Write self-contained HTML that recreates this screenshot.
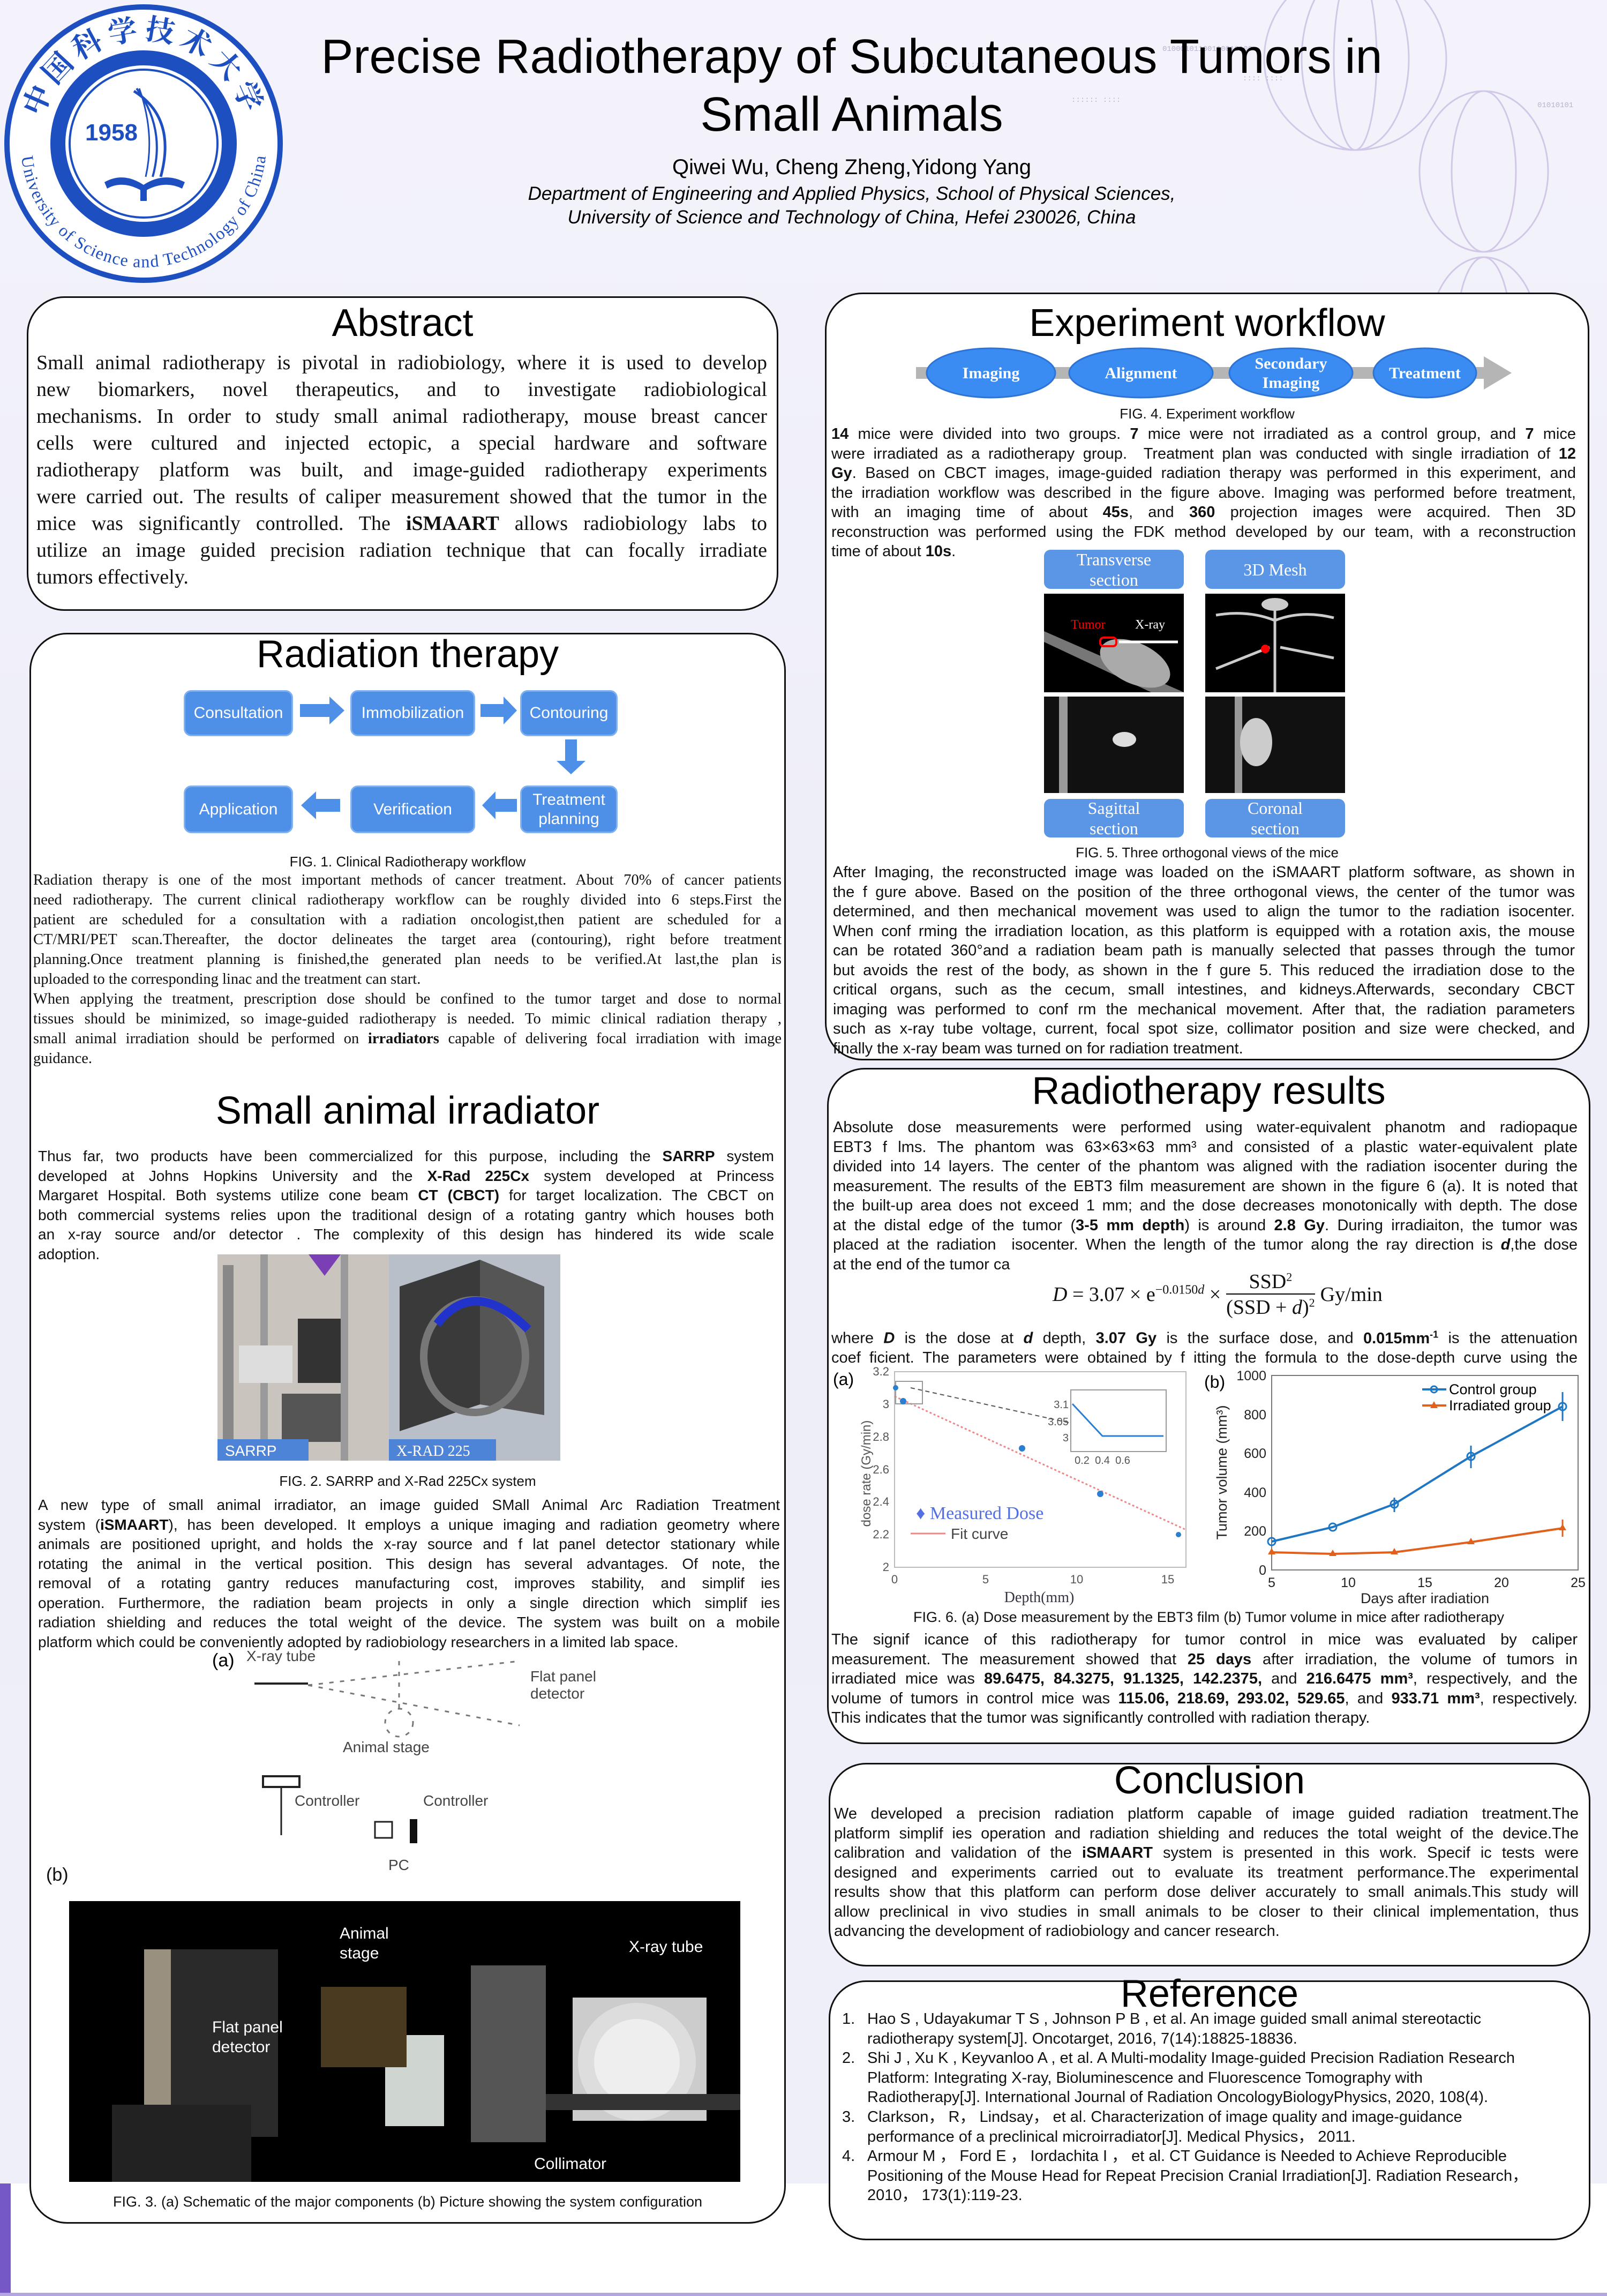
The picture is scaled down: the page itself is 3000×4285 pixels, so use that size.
<!DOCTYPE html>
<html><head><meta charset="utf-8">
<style>
*{margin:0;padding:0;box-sizing:border-box}
body{width:3000px;height:4285px;position:relative;overflow:hidden;background:#fff;font-family:"Liberation Sans",sans-serif;color:#111}
.bg{position:absolute;left:0;top:0;width:3000px;height:4075px;background:linear-gradient(180deg,#f4f3fb 0%,#eeeef9 40%,#efeff9 100%)}
.box{position:absolute;background:#fff;border:3px solid #111;border-radius:70px}
.h{position:absolute;text-align:center;font-weight:normal;color:#000;white-space:nowrap}
.t{position:absolute;}
.t div{text-align:justify;text-align-last:justify;white-space:normal;overflow:hidden}
.t div.l{text-align-last:left}
.serif{font-family:"Liberation Serif",serif}
.cap{position:absolute;text-align:center;white-space:nowrap;font-size:26px}
.fb{position:absolute;background:#4e8fe8;border:3px solid #7fb0f0;border-radius:14px;color:#fff;font-size:30px;display:flex;align-items:center;justify-content:center;text-align:center;line-height:36px}
.lb{position:absolute;background:#5b95e6;border-radius:12px;color:#fff;font-family:"Liberation Serif",serif;font-size:32px;display:flex;align-items:center;justify-content:center;text-align:center;line-height:38px}
.img{position:absolute;background:#000;overflow:hidden}
</style></head><body>
<div class="bg"></div>
<svg style="position:absolute;left:0;top:0" width="3000" height="1200">
<g fill="none" stroke="#c9bde3" stroke-width="3" opacity="0.8">
<ellipse cx="2530" cy="110" rx="170" ry="170"/><ellipse cx="2530" cy="110" rx="100" ry="170"/><ellipse cx="2530" cy="110" rx="40" ry="170"/>
<ellipse cx="2770" cy="320" rx="120" ry="150"/><ellipse cx="2770" cy="320" rx="60" ry="150"/>
<ellipse cx="2770" cy="620" rx="100" ry="140"/><ellipse cx="2770" cy="620" rx="50" ry="140"/>
</g>
<g fill="#b9b3cf" font-size="14" font-family="Liberation Mono">
<text x="2170" y="95">01000101100110010100</text><text x="1720" y="125">:::::: ::::::</text><text x="2000" y="190">:::::: ::::</text><text x="2870" y="200">01010101</text><text x="2320" y="150">:::: ::::</text>
</g>
</svg>
<div style="position:absolute;left:0;top:4075px;width:20px;height:210px;background:#7558c6"></div>
<div style="position:absolute;left:0;top:4279px;width:3000px;height:6px;background:#b3a6e0"></div>

<svg style="position:absolute;left:0;top:0" width="540" height="540">
<defs>
<path id="arcB" d="M 62 270 A 206 206 0 0 0 474 270"/>
<path id="arcT" d="M 80 270 A 188 188 0 0 1 456 270"/>
</defs>
<circle cx="268" cy="268" r="255" fill="#fff" stroke="#1d4fc0" stroke-width="10"/>
<circle cx="268" cy="268" r="160" fill="none" stroke="#1d4fc0" stroke-width="28"/>
<circle cx="268" cy="268" r="138" fill="#fff" stroke="#1d4fc0" stroke-width="4"/>
<text font-family="Liberation Serif,serif" font-size="32" fill="#1d4fc0" dominant-baseline="hanging"><textPath href="#arcB" startOffset="50%" text-anchor="middle">University of Science and Technology of China</textPath></text>
<text font-family="Noto Serif CJK SC,Noto Sans CJK SC,serif" font-size="54" font-weight="bold" fill="#1d4fc0" dy="-8"><textPath href="#arcT" startOffset="50%" text-anchor="middle" letter-spacing="8">中国科学技术大学</textPath></text>
<text x="208" y="262" font-family="Liberation Sans,sans-serif" font-size="44" font-weight="bold" fill="#1d4fc0" text-anchor="middle">1958</text>
<path d="M250 170 Q330 220 300 330" stroke="#1d4fc0" stroke-width="5" fill="none"/>
<path d="M255 165 Q310 240 285 330" stroke="#1d4fc0" stroke-width="4" fill="none"/>
<path d="M260 165 Q290 250 272 330" stroke="#1d4fc0" stroke-width="3" fill="none"/>
<path d="M195 340 Q230 320 268 345 Q306 320 345 340 L340 352 Q306 335 268 358 Q230 335 200 352 Z" fill="#1d4fc0"/>
<rect x="262" y="345" width="12" height="30" fill="#1d4fc0"/>
</svg>

<div class="h" style="left:420px;width:2340px;top:52px;font-size:90px;line-height:108px">Precise Radiotherapy of Subcutaneous Tumors in<br>Small Animals</div>
<div class="h" style="left:420px;width:2340px;top:290px;font-size:40px">Qiwei Wu, Cheng Zheng,Yidong Yang</div>
<div class="h" style="left:420px;width:2340px;top:340px;font-size:35px;font-style:italic;line-height:44px">Department of Engineering and Applied Physics, School of Physical Sciences,<br>University of Science and Technology of China, Hefei 230026, China</div>

<div class="box" style="left:50px;top:553px;width:1403px;height:587px"></div>
<div class="h" style="left:50px;width:1403px;top:562px;font-size:72px">Abstract</div>
<div class="t serif" style="left:68px;top:652px;width:1364px;font-size:38px;line-height:50px">
<div>Small animal radiotherapy is pivotal in radiobiology, where it is used to develop</div>
<div>new biomarkers, novel therapeutics, and to investigate radiobiological</div>
<div>mechanisms. In order to study small animal radiotherapy, mouse breast cancer</div>
<div>cells were cultured and injected ectopic, a special hardware and software</div>
<div>radiotherapy platform was built, and image-guided radiotherapy experiments</div>
<div>were carried out. The results of caliper measurement showed that the tumor in the</div>
<div>mice was significantly controlled. The <b>iSMAART</b> allows radiobiology labs to</div>
<div>utilize an image guided precision radiation technique that can focally irradiate</div>
<div class="l">tumors effectively.</div>
</div>

<div class="box" style="left:1540px;top:546px;width:1427px;height:1433px"></div>
<div class="h" style="left:1540px;width:1427px;top:562px;font-size:72px">Experiment workflow</div>
<svg style="position:absolute;left:1700px;top:640px" width="1150" height="120">
<rect x="10" y="45" width="1060" height="22" fill="#b5b5b5"/>
<polygon points="1070,25 1122,56 1070,87" fill="#b5b5b5"/>
<g fill="#3b8cf2" stroke="#2d74d6" stroke-width="3">
<ellipse cx="150" cy="56" rx="120" ry="46"/><ellipse cx="430" cy="56" rx="134" ry="46"/><ellipse cx="710" cy="56" rx="115" ry="46"/><ellipse cx="960" cy="56" rx="96" ry="46"/>
</g>
<g fill="#fff" font-family="Liberation Serif,serif" font-weight="bold" font-size="30" text-anchor="middle">
<text x="150" y="66">Imaging</text><text x="430" y="66">Alignment</text><text x="710" y="48">Secondary</text><text x="710" y="84">Imaging</text><text x="960" y="66">Treatment</text>
</g>
</svg>
<div class="cap" style="left:1540px;width:1427px;top:757px">FIG. 4. Experiment workflow</div>
<div class="t" style="left:1552px;top:792px;width:1390px;font-size:29px;line-height:36.5px">
<div><b>14</b> mice were divided into two groups. <b>7</b> mice were not irradiated as a control group, and <b>7</b> mice</div>
<div>were irradiated as a radiotherapy group.&nbsp; Treatment plan was conducted with single irradiation of <b>12</b></div>
<div><b>Gy</b>. Based on CBCT images, image-guided radiation therapy was performed in this experiment, and</div>
<div>the irradiation workflow was described in the figure above. Imaging was performed before treatment,</div>
<div>with an imaging time of about <b>45s</b>, and <b>360</b> projection images were acquired. Then 3D</div>
<div>reconstruction was performed using the FDK method developed by our team, with a reconstruction</div>
<div class="l">time of about <b>10s</b>.</div>
</div>
<div class="lb" style="left:1949px;top:1026px;width:261px;height:73px">Transverse<br>section</div>
<div class="lb" style="left:2250px;top:1026px;width:261px;height:73px">3D Mesh</div>
<div class="img" style="left:1949px;top:1108px;width:261px;height:184px">
<svg width="261" height="184"><polygon points="0,70 261,184 200,184 0,90" fill="#777"/><ellipse cx="170" cy="130" rx="70" ry="38" fill="#aaa" transform="rotate(25 170 130)"/><rect x="105" y="82" width="30" height="16" rx="6" fill="none" stroke="red" stroke-width="4"/><line x1="140" y1="90" x2="250" y2="90" stroke="#fff" stroke-width="5"/><text x="50" y="65" fill="red" font-family="Liberation Serif" font-size="24">Tumor</text><text x="170" y="65" fill="#fff" font-family="Liberation Serif" font-size="24">X-ray</text></svg></div>
<div class="img" style="left:2250px;top:1108px;width:261px;height:184px">
<svg width="261" height="184"><g stroke="#ccc" stroke-width="5" fill="none"><path d="M130 10 L130 184"/><path d="M20 40 Q80 30 130 50 Q180 30 240 45"/><path d="M20 140 Q70 120 120 100 M140 100 Q190 110 240 120"/></g><ellipse cx="130" cy="20" rx="25" ry="12" fill="#ccc"/><circle cx="112" cy="103" r="8" fill="red"/></svg></div>
<div class="img" style="left:1949px;top:1300px;width:261px;height:180px;background:#111">
<svg width="261" height="180"><rect x="28" y="0" width="16" height="180" fill="#999"/><ellipse cx="150" cy="80" rx="22" ry="14" fill="#ddd"/></svg></div>
<div class="img" style="left:2250px;top:1300px;width:261px;height:180px;background:#111">
<svg width="261" height="180"><rect x="55" y="0" width="14" height="180" fill="#999"/><ellipse cx="95" cy="85" rx="30" ry="45" fill="#ccc"/></svg></div>
<div class="lb" style="left:1949px;top:1491px;width:261px;height:72px">Sagittal<br>section</div>
<div class="lb" style="left:2250px;top:1491px;width:261px;height:72px">Coronal<br>section</div>
<div class="cap" style="left:1540px;width:1427px;top:1576px">FIG. 5. Three orthogonal views of the mice</div>
<div class="t" style="left:1555px;top:1610px;width:1385px;font-size:29px;line-height:36.5px">
<div>After Imaging, the reconstructed image was loaded on the iSMAART platform software, as shown in</div>
<div>the f gure above. Based on the position of the three orthogonal views, the center of the tumor was</div>
<div>determined, and then mechanical movement was used to align the tumor to the radiation isocenter.</div>
<div>When conf rming the irradiation location, as this platform is equipped with a rotation axis, the mouse</div>
<div>can be rotated 360°and a radiation beam path is manually selected that passes through the tumor</div>
<div>but avoids the rest of the body, as shown in the f gure 5. This reduced the irradiation dose to the</div>
<div>critical organs, such as the cecum, small intestines, and kidneys.Afterwards, secondary CBCT</div>
<div>imaging was performed to conf rm the mechanical movement. After that, the radiation parameters</div>
<div>such as x-ray tube voltage, current, focal spot size, collimator position and size were checked, and</div>
<div class="l">finally the x-ray beam was turned on for radiation treatment.</div>
</div>

<div class="box" style="left:55px;top:1181px;width:1412px;height:2969px"></div>
<div class="h" style="left:55px;width:1412px;top:1180px;font-size:72px">Radiation therapy</div>
<div class="fb" style="left:343px;top:1288px;width:204px;height:86px">Consultation</div>
<div class="fb" style="left:654px;top:1288px;width:233px;height:86px">Immobilization</div>
<div class="fb" style="left:971px;top:1288px;width:182px;height:86px">Contouring</div>
<div class="fb" style="left:343px;top:1466px;width:204px;height:89px">Application</div>
<div class="fb" style="left:654px;top:1466px;width:233px;height:89px">Verification</div>
<div class="fb" style="left:971px;top:1466px;width:182px;height:89px">Treatment<br>planning</div>
<svg style="position:absolute;left:540px;top:1280px" width="640" height="290">
<g fill="#4e8fe8">
<polygon points="20,34 75,34 75,20 103,46 75,72 75,58 20,58"/>
<polygon points="357,34 400,34 400,20 425,46 400,72 400,58 357,58"/>
<polygon points="515,100 537,100 537,140 553,140 526,165 499,140 515,140"/>
<polygon points="95,211 50,211 50,197 22,223 50,249 50,235 95,235"/>
<polygon points="425,211 385,211 385,197 360,223 385,249 385,235 425,235"/>
</g></svg>
<div class="cap" style="left:55px;width:1412px;top:1593px">FIG. 1. Clinical Radiotherapy workflow</div>
<div class="t serif" style="left:62px;top:1624px;width:1397px;font-size:28.5px;line-height:37px">
<div>Radiation therapy is one of the most important methods of cancer treatment. About 70% of cancer patients</div>
<div>need radiotherapy. The current clinical radiotherapy workflow can be roughly divided into 6 steps.First the</div>
<div>patient are scheduled for a consultation with a radiation oncologist,then patient are scheduled for a</div>
<div>CT/MRI/PET scan.Thereafter, the doctor delineates the target area (contouring), right before treatment</div>
<div>planning.Once treatment planning is finished,the generated plan needs to be verified.At last,the plan is</div>
<div class="l">uploaded to the corresponding linac and the treatment can start.</div>
<div>When applying the treatment, prescription dose should be confined to the tumor target and dose to normal</div>
<div>tissues should be minimized, so image-guided radiotherapy is needed. To mimic clinical radiation therapy ,</div>
<div>small animal irradiation should be performed on <b>irradiators</b> capable of delivering focal irradiation with image</div>
<div class="l">guidance.</div>
</div>
<div class="h" style="left:55px;width:1412px;top:2032px;font-size:72px">Small animal irradiator</div>
<div class="t" style="left:71px;top:2140px;width:1374px;font-size:28px;line-height:36.5px">
<div>Thus far, two products have been commercialized for this purpose, including the <b>SARRP</b> system</div>
<div>developed at Johns Hopkins University and the <b>X-Rad 225Cx</b> system developed at Princess</div>
<div>Margaret Hospital. Both systems utilize cone beam <b>CT (CBCT)</b> for target localization. The CBCT on</div>
<div>both commercial systems relies upon the traditional design of a rotating gantry which houses both</div>
<div>an x-ray source and/or detector . The complexity of this design has hindered its wide scale</div>
<div class="l">adoption.</div>
</div>
<div class="img" style="left:406px;top:2341px;width:320px;height:385px;background:#c9c4bd">
<svg width="320" height="385"><rect x="10" y="20" width="20" height="350" fill="#888"/><rect x="80" y="0" width="14" height="385" fill="#9a9a9a"/><rect x="230" y="0" width="14" height="385" fill="#9a9a9a"/><rect x="150" y="120" width="80" height="120" fill="#333"/><rect x="40" y="170" width="100" height="70" fill="#ddd"/><rect x="120" y="260" width="110" height="90" fill="#555"/><path d="M170 0 L200 40 L230 0Z" fill="#7a3fb5"/><rect x="0" y="345" width="170" height="40" fill="#4e84d8"/><text x="14" y="376" fill="#fff" font-size="28">SARRP</text></svg></div>
<div class="img" style="left:726px;top:2341px;width:320px;height:385px;background:#b9bfc8">
<svg width="320" height="385"><polygon points="20,60 170,10 170,280 20,330" fill="#3a3a3a"/><polygon points="170,10 290,60 290,300 170,280" fill="#555"/><ellipse cx="160" cy="190" rx="95" ry="105" fill="none" stroke="#777" stroke-width="14"/><path d="M90 130 Q160 40 260 140" stroke="#2233cc" stroke-width="16" fill="none"/><rect x="0" y="345" width="200" height="40" fill="#4e84d8"/><text x="14" y="376" fill="#fff" font-size="28" font-family="Liberation Serif">X-RAD 225</text></svg></div>
<div class="cap" style="left:55px;width:1412px;top:2749px">FIG. 2. SARRP and X-Rad 225Cx system</div>
<div class="t" style="left:71px;top:2791px;width:1385px;font-size:28px;line-height:36.5px">
<div>A new type of small animal irradiator, an image guided SMall Animal Arc Radiation Treatment</div>
<div>system (<b>iSMAART</b>), has been developed. It employs a unique imaging and radiation geometry where</div>
<div>animals are positioned upright, and holds the x-ray source and f lat panel detector stationary while</div>
<div>rotating the animal in the vertical position. This design has several advantages. Of note, the</div>
<div>removal of a rotating gantry reduces manufacturing cost, improves stability, and simplif ies</div>
<div>operation. Furthermore, the radiation beam projects in only a single direction which simplif ies</div>
<div>radiation shielding and reduces the total weight of the device. The system was built on a mobile</div>
<div class="l">platform which could be conveniently adopted by radiobiology researchers in a limited lab space.</div>
</div>
<svg style="position:absolute;left:380px;top:3070px" width="800" height="440">
<text x="16" y="40" font-size="34">(a)</text>
<text x="80" y="30" font-size="28" fill="#444">X-ray tube</text>
<line x1="95" y1="72" x2="195" y2="72" stroke="#222" stroke-width="4"/>
<g stroke="#777" stroke-width="3" stroke-dasharray="8,12" fill="none"><line x1="195" y1="75" x2="590" y2="30"/><line x1="195" y1="75" x2="590" y2="150"/><line x1="365" y1="30" x2="365" y2="130"/><circle cx="365" cy="145" r="26"/></g>
<text x="610" y="68" font-size="28" fill="#444">Flat panel</text><text x="610" y="100" font-size="28" fill="#444">detector</text>
<text x="260" y="200" font-size="28" fill="#444">Animal stage</text>
<rect x="111" y="245" width="68" height="20" fill="none" stroke="#222" stroke-width="4"/><line x1="145" y1="265" x2="145" y2="355" stroke="#222" stroke-width="3"/>
<text x="170" y="300" font-size="28" fill="#444">Controller</text><text x="410" y="300" font-size="28" fill="#444">Controller</text>
<rect x="320" y="330" width="32" height="30" fill="none" stroke="#222" stroke-width="3"/><rect x="385" y="325" width="14" height="45" fill="#111"/>
<text x="345" y="420" font-size="28" fill="#444">PC</text>
</svg>
<div style="position:absolute;left:86px;top:3480px;font-size:34px">(b)</div>
<div class="img" style="left:129px;top:3548px;width:1253px;height:524px">
<svg width="1253" height="524"><rect x="140" y="90" width="250" height="350" fill="#2a2a2a"/><rect x="140" y="90" width="50" height="350" fill="#9a9080"/><rect x="80" y="380" width="260" height="144" fill="#222"/><rect x="590" y="250" width="110" height="170" fill="#cfd5d0"/><rect x="470" y="160" width="160" height="150" fill="#4a3a20"/><rect x="750" y="120" width="140" height="330" fill="#555"/><rect x="940" y="180" width="250" height="230" fill="#ccc"/><circle cx="1060" cy="300" r="110" fill="#ddd"/><circle cx="1060" cy="300" r="80" fill="#eee"/><rect x="890" y="360" width="363" height="30" fill="#333"/>
<g fill="#fff" font-size="30"><text x="267" y="245">Flat panel</text><text x="267" y="282">detector</text><text x="505" y="70">Animal</text><text x="505" y="107">stage</text><text x="1045" y="95">X-ray tube</text><text x="868" y="500">Collimator</text></g></svg></div>
<div class="cap" style="left:55px;width:1412px;top:4094px;font-size:27px">FIG. 3. (a) Schematic of the major components (b) Picture showing the system configuration</div>

<div class="box" style="left:1544px;top:1993px;width:1425px;height:1262px"></div>
<div class="h" style="left:1544px;width:1425px;top:1995px;font-size:72px">Radiotherapy results</div>
<div class="t" style="left:1555px;top:2086px;width:1390px;font-size:29px;line-height:36.5px">
<div>Absolute dose measurements were performed using water-equivalent phanotm and radiopaque</div>
<div>EBT3 f lms. The phantom was 63×63×63 mm³ and consisted of a plastic water-equivalent plate</div>
<div>divided into 14 layers. The center of the phantom was aligned with the radiation isocenter during the</div>
<div>measurement. The results of the EBT3 film measurement are shown in the figure 6 (a). It is noted that</div>
<div>the built-up area does not exceed 1 mm; and the dose decreases monotonically with depth. The dose</div>
<div>at the distal edge of the tumor (<b>3-5 mm depth</b>) is around <b>2.8 Gy</b>. During irradiaiton, the tumor was</div>
<div>placed at the radiation&nbsp; isocenter. When the length of the tumor along the ray direction is <i><b>d</b></i>,the dose</div>
<div class="l">at the end of the tumor ca</div>
</div>
<div style="position:absolute;left:1965px;top:2370px;font-family:'Liberation Serif',serif;font-size:38px;white-space:nowrap;display:flex;align-items:center">
<span><i>D</i> = 3.07 × e<sup style="font-size:24px">−0.0150<i>d</i></sup> × </span>
<span style="display:inline-flex;flex-direction:column;align-items:center;margin:0 10px"><span>SSD<sup style="font-size:22px">2</sup></span><span style="border-top:2px solid #000;padding-top:2px">(SSD + <i>d</i>)<sup style="font-size:22px">2</sup></span></span>
<span>Gy/min</span></div>
<div class="t" style="left:1552px;top:2472px;width:1393px;font-size:29px;line-height:36.5px">
<div>where <b><i>D</i></b> is the dose at <b><i>d</i></b> depth, <b>3.07 Gy</b> is the surface dose, and <b>0.015mm<sup style="font-size:18px">-1</sup></b> is the attenuation</div>
<div>coef  ficient. The parameters were obtained by f itting the formula to the dose-depth curve using the</div>
</div>
<svg style="position:absolute;left:1550px;top:2545px" width="700" height="470">
<g transform="translate(-1550,-2545)">
<text x="1555" y="2585" font-size="32">(a)</text>
<rect x="1670" y="2560" width="544" height="365" fill="#fff" stroke="#bbb" stroke-width="2"/>
<g font-size="22" fill="#555" text-anchor="end"><text x="1660" y="2932">2</text><text x="1660" y="2871">2.2</text><text x="1660" y="2810">2.4</text><text x="1660" y="2750">2.6</text><text x="1660" y="2689">2.8</text><text x="1660" y="2628">3</text><text x="1660" y="2567">3.2</text></g>
<g font-size="22" fill="#555" text-anchor="middle"><text x="1670" y="2955">0</text><text x="1840" y="2955">5</text><text x="2010" y="2955">10</text><text x="2180" y="2955">15</text></g>
<text x="1940" y="2990" font-size="28" fill="#334" font-family="Liberation Serif" text-anchor="middle">Depth(mm)</text>
<text transform="translate(1625,2750) rotate(-90)" font-size="24" fill="#555" text-anchor="middle">dose rate (Gy/min)</text>
<line x1="1670" y1="2606" x2="2214" y2="2855" stroke="#e88" stroke-width="3" stroke-dasharray="4,4"/>
<line x1="1700" y1="2590" x2="1995" y2="2655" stroke="#555" stroke-width="2" stroke-dasharray="8,6"/>
<rect x="1672" y="2578" width="50" height="42" fill="none" stroke="#999" stroke-width="2"/>
<rect x="1999" y="2594" width="178" height="115" fill="#fff" stroke="#999" stroke-width="2"/>
<polyline points="2002,2620 2058,2680 2172,2680" fill="none" stroke="#2a7fd0" stroke-width="3"/>
<g font-size="20" fill="#555" text-anchor="end"><text x="1995" y="2628">3.1</text><text x="1995" y="2660">3.05</text><text x="1995" y="2690">3</text></g>
<g font-size="20" fill="#555" text-anchor="middle"><text x="2020" y="2732">0.2</text><text x="2058" y="2732">0.4</text><text x="2096" y="2732">0.6</text></g>
<g fill="#2a7fd0"><circle cx="1672" cy="2590" r="5"/><circle cx="1686" cy="2615" r="6"/><circle cx="1908" cy="2703" r="6"/><circle cx="2054" cy="2788" r="6"/><circle cx="2200" cy="2864" r="5"/></g>
<text x="1710" y="2835" font-family="Liberation Serif" font-size="34" fill="#5570e0">♦ Measured Dose</text>
<line x1="1700" y1="2862" x2="1765" y2="2862" stroke="#e88" stroke-width="3"/><text x="1775" y="2872" font-size="28" fill="#444">Fit curve</text>
</g></svg>
<svg style="position:absolute;left:2240px;top:2545px" width="730" height="470">
<g transform="translate(-2240,-2545)">
<text x="2248" y="2590" font-size="32">(b)</text>
<rect x="2374" y="2567" width="572" height="363" fill="#fff" stroke="#777" stroke-width="2"/>
<g font-size="25" fill="#222" text-anchor="end"><text x="2364" y="2939">0</text><text x="2364" y="2866">200</text><text x="2364" y="2794">400</text><text x="2364" y="2721">600</text><text x="2364" y="2649">800</text><text x="2364" y="2576">1000</text></g>
<g font-size="25" fill="#222" text-anchor="middle"><text x="2374" y="2962">5</text><text x="2517" y="2962">10</text><text x="2660" y="2962">15</text><text x="2803" y="2962">20</text><text x="2946" y="2962">25</text></g>
<text x="2660" y="2992" font-size="27" fill="#222" text-anchor="middle">Days after iradiation</text>
<text transform="translate(2290,2748) rotate(-90)" font-size="27" fill="#222" text-anchor="middle">Tumor volume (mm³)</text>
<polyline points="2374,2877 2488,2850 2603,2807 2746,2718 2917,2625" fill="none" stroke="#1f77c4" stroke-width="4"/>
<polyline points="2374,2897 2488,2900 2603,2897 2746,2878 2917,2852" fill="none" stroke="#e0601c" stroke-width="4"/>
<g fill="none" stroke="#1f77c4" stroke-width="3"><circle cx="2374" cy="2877" r="7"/><circle cx="2488" cy="2850" r="7"/><circle cx="2603" cy="2807" r="7"/><circle cx="2746" cy="2718" r="7"/><circle cx="2917" cy="2625" r="7"/><line x1="2746" y1="2698" x2="2746" y2="2740"/><line x1="2917" y1="2598" x2="2917" y2="2652"/><line x1="2603" y1="2795" x2="2603" y2="2822"/></g>
<g fill="#e0601c"><polygon points="2374,2889 2381,2901 2367,2901"/><polygon points="2488,2892 2495,2904 2481,2904"/><polygon points="2603,2889 2610,2901 2596,2901"/><polygon points="2746,2870 2753,2882 2739,2882"/><polygon points="2917,2844 2924,2856 2910,2856"/></g>
<line x1="2917" y1="2836" x2="2917" y2="2868" stroke="#e0601c" stroke-width="3"/>
<line x1="2655" y1="2593" x2="2700" y2="2593" stroke="#1f77c4" stroke-width="4"/><circle cx="2677" cy="2593" r="6" fill="none" stroke="#1f77c4" stroke-width="3"/><text x="2705" y="2602" font-size="27">Control group</text>
<line x1="2655" y1="2623" x2="2700" y2="2623" stroke="#e0601c" stroke-width="4"/><polygon points="2677,2615 2684,2628 2670,2628" fill="#e0601c"/><text x="2705" y="2632" font-size="27">Irradiated group</text>
</g></svg>
<div class="cap" style="left:1544px;width:1425px;top:3003px;font-size:27px">FIG. 6. (a) Dose measurement by the EBT3 film (b) Tumor volume in mice after radiotherapy</div>
<div class="t" style="left:1552px;top:3042px;width:1393px;font-size:29px;line-height:36.5px">
<div>The signif icance of this radiotherapy for tumor control in mice was evaluated by caliper</div>
<div>measurement. The measurement showed that <b>25 days</b> after irradiation, the volume of tumors in</div>
<div>irradiated mice was <b>89.6475, 84.3275, 91.1325, 142.2375,</b> and <b>216.6475 mm³</b>, respectively, and the</div>
<div>volume of tumors in control mice was <b>115.06, 218.69, 293.02, 529.65</b>, and <b>933.71 mm³</b>, respectively.</div>
<div class="l">This indicates that the tumor was significantly controlled with radiation therapy.</div>
</div>

<div class="box" style="left:1547px;top:3290px;width:1422px;height:380px"></div>
<div class="h" style="left:1547px;width:1422px;top:3282px;font-size:72px">Conclusion</div>
<div class="t" style="left:1557px;top:3367px;width:1390px;font-size:29px;line-height:36.5px">
<div>We developed a precision radiation platform capable of image guided radiation treatment.The</div>
<div>platform simplif ies operation and radiation shielding and reduces the total weight of the device.The</div>
<div>calibration and validation of the <b>iSMAART</b> system is presented in this work. Specif ic tests were</div>
<div>designed and experiments carried out to evaluate its treatment performance.The experimental</div>
<div>results show that this platform can perform dose deliver accurately to small animals.This study will</div>
<div>allow preclinical in vivo studies in small animals to be closer to their clinical implementation, thus</div>
<div class="l">advancing the development of radiobiology and cancer research.</div>
</div>

<div class="box" style="left:1547px;top:3696px;width:1422px;height:485px"></div>
<div class="h" style="left:1547px;width:1422px;top:3680px;font-size:72px">Reference</div>
<div style="position:absolute;left:1572px;top:3750px;width:1345px;font-size:29px;line-height:36.6px">
<div style="display:flex"><span style="width:47px">1.</span><span style="flex:1">Hao S , Udayakumar T S , Johnson P B , et al. An image guided small animal stereotactic<br>radiotherapy system[J]. Oncotarget, 2016, 7(14):18825-18836.</span></div>
<div style="display:flex"><span style="width:47px">2.</span><span style="flex:1">Shi J , Xu K , Keyvanloo A , et al. A Multi-modality Image-guided Precision Radiation Research<br>Platform: Integrating X-ray, Bioluminescence and Fluorescence Tomography with<br>Radiotherapy[J]. International Journal of Radiation OncologyBiologyPhysics, 2020, 108(4).</span></div>
<div style="display:flex"><span style="width:47px">3.</span><span style="flex:1">Clarkson， R， Lindsay， et al. Characterization of image quality and image-guidance<br>performance of a preclinical microirradiator[J]. Medical Physics， 2011.</span></div>
<div style="display:flex"><span style="width:47px">4.</span><span style="flex:1">Armour M ， Ford E ， Iordachita I ， et al. CT Guidance is Needed to Achieve Reproducible<br>Positioning of the Mouse Head for Repeat Precision Cranial Irradiation[J]. Radiation Research，<br>2010， 173(1):119-23.</span></div>
</div>
</body></html>
